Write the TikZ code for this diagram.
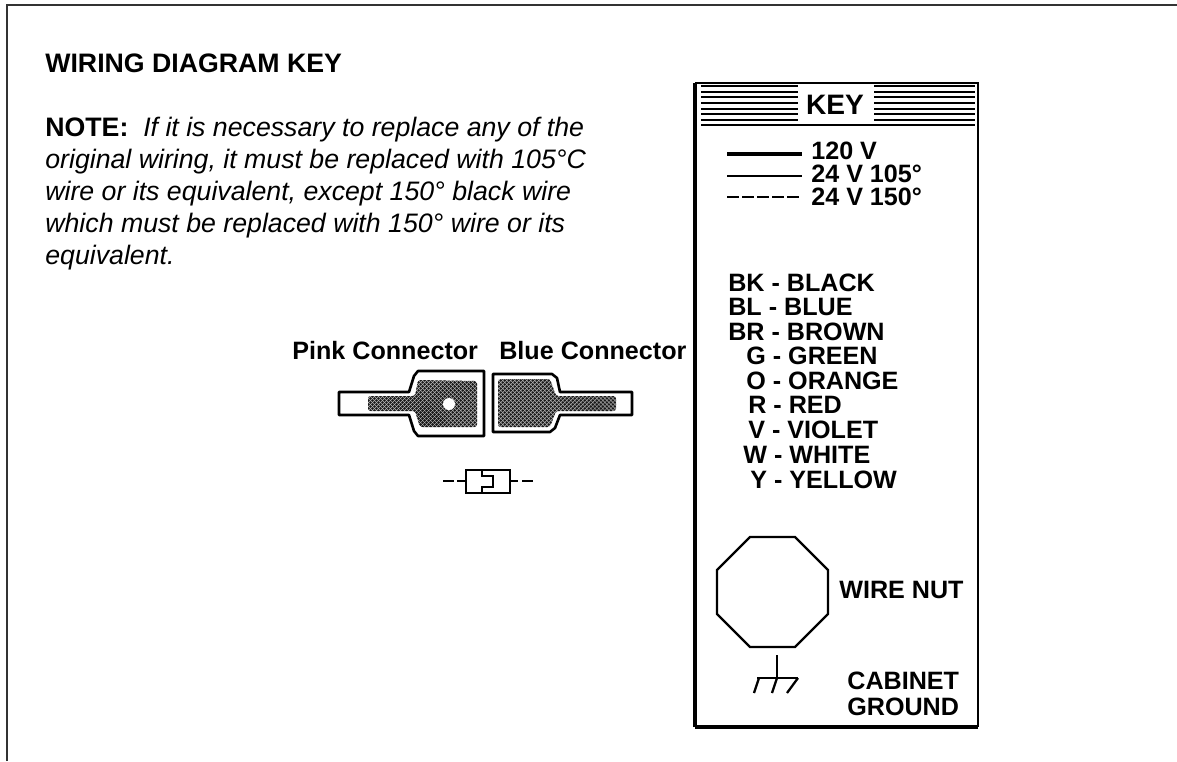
\documentclass[tikz,border=0pt]{standalone}
\usepackage{fontspec}
\setmainfont{Liberation Sans}
\usepackage{tikz}
\usetikzlibrary{patterns}
\pgfdeclarepatternformonly{finedots}{\pgfqpoint{-1pt}{-1pt}}{\pgfqpoint{3.28pt}{3.28pt}}{\pgfqpoint{2.28pt}{2.28pt}}{
  \pgfpathcircle{\pgfqpoint{0pt}{0pt}}{0.8pt}
  \pgfpathcircle{\pgfqpoint{1.14pt}{1.14pt}}{0.8pt}
  \pgfusepath{fill}
}
\tikzset{
  txt/.style={anchor=base west,inner sep=0pt,font=\fontsize{15.2}{18}\selectfont},
  keytxt/.style={anchor=base west,inner sep=0pt,font=\fontsize{14.3}{16}\selectfont\bfseries},
  stripe/.style={line width=1.1pt},
  outline/.style={line width=1.5pt,line join=round},
  symline/.style={line width=1.6pt},
  shade/.style={preaction={fill=black!30},pattern=finedots,pattern color=black!90,rounded corners=1.5pt},
}
\begin{document}
\begin{tikzpicture}[x=0.02cm,y=-0.02cm]
\useasboundingbox (0,0) rectangle (1177,761);
%% frame
\coordinate (frameB) at (7,761);
\coordinate (frameC) at (7,5);
\coordinate (frameR) at (1177,5);
\draw[line width=0.7pt,black!80] (frameB) -- (frameC) -- (frameR);
%% note text
\node[txt,font=\fontsize{15.2}{18}\selectfont\bfseries] (title) at (45,72) {WIRING DIAGRAM KEY};
\node[txt] (note1) at (45,136) {\textbf{NOTE:}\ \ \textit{If it is necessary to replace any of the}};
\node[txt] (note2) at (45,168) {\textit{original wiring, it must be replaced with 105°C}};
\node[txt] (note3) at (45,200) {\textit{wire or its equivalent, except 150° black wire}};
\node[txt] (note4) at (45,232) {\textit{which must be replaced with 150° wire or its}};
\node[txt] (note5) at (45,264) {\textit{equivalent.}};
%% connectors
\node[keytxt] (pink) at (292,359) {Pink Connector};
\node[keytxt] (blue) at (499,359) {Blue Connector};
\draw[outline] (339,392) -- (409,392) -- (414,376) -- (418,371) -- (484,371) -- (484,436) -- (418,436) -- (414,431) -- (409,415) -- (339,415) -- cycle;
\draw[outline] (493,374) -- (552,374) -- (557,378) -- (560,392) -- (632,392) -- (632,415) -- (560,415) -- (555,428) -- (550,432) -- (493,432) -- cycle;
\fill[shade] (368,396) -- (415,396) -- (418,380) -- (477,381) -- (477,427) -- (420,427) -- (415,411) -- (368,411) -- cycle;
\fill[shade] (498,379) -- (550,379) -- (556,396) -- (616,396) -- (616,411) -- (556,411) -- (550,427) -- (498,427) -- cycle;
\fill[white] (449,404) circle (6);
%% symbol
\draw[symline] (443,481) -- (454,481) (457,481) -- (466,481);
\draw[symline] (510,481) -- (518,481) (522,481) -- (533,481);
\draw[symline] (466,470) rectangle (510,493);
\draw[symline] (482,470) -- (482,476) -- (493,476) -- (493,487) -- (482,487) -- (482,493);
%% key box
\coordinate (boxA) at (695,83);
\coordinate (boxB) at (978,83);
\coordinate (boxC) at (978,727);
\coordinate (boxD) at (695,727);
\draw[line width=1.5pt] (boxA) -- (boxB) -- (boxC);
\draw[line width=2.3pt] (boxD) -- (boxA);
\draw[line width=2.8pt] (boxC) -- (boxD);
\foreach \yy in {86,92,97,109,114,120} {
  \draw[stripe] (701,\yy) -- (798,\yy);
  \draw[stripe] (874,\yy) -- (975,\yy);
}
\draw[line width=1.7pt] (701,103) -- (798,103) (874,103) -- (975,103);
\draw[line width=1.5pt] (701,125) -- (975,125);
\node[inner sep=0pt,font=\fontsize{16}{16}\selectfont\bfseries] (key) at (835,105) {KEY};
%% line samples
\draw[line width=2.8pt] (727,154) -- (802,154);
\draw[line width=1.1pt] (727,176) -- (802,176);
\draw[line width=1.1pt,dash pattern=on 6.8pt off 1.8pt] (727,197) -- (802,197);
\node[keytxt] (v120) at (811,159) {120 V};
\node[keytxt] (v105) at (811,182) {24 V 105°};
\node[keytxt] (v150) at (811,205) {24 V 150°};
%% colours
\node[keytxt] (bk) at (728,291) {BK - BLACK};
\node[keytxt] (bl) at (728,315) {BL - BLUE};
\node[keytxt] (br) at (728,340) {BR - BROWN};
\node[keytxt] (g) at (746,364) {G - GREEN};
\node[keytxt] (o) at (746,389) {O - ORANGE};
\node[keytxt] (r) at (748,413) {R - RED};
\node[keytxt] (v) at (748,438) {V - VIOLET};
\node[keytxt] (w) at (743,463) {W - WHITE};
\node[keytxt] (y) at (750,488) {Y - YELLOW};
%% wire nut
\draw[line width=1.3pt] (750,537) -- (795,537) -- (828,570) -- (828,614) -- (795,647) -- (750,647) -- (717,614) -- (717,570) -- cycle;
\node[keytxt] (nut) at (839,598) {WIRE NUT};
%% ground
\coordinate (gndT) at (777,655);
\coordinate (gndM) at (777,678);
\draw[line width=0.9pt] (gndT) -- (gndM);
\draw[line width=1.2pt] (757,678) -- (798,678);
\draw[line width=1.3pt] (759,678) -- (754,693) (777,678) -- (772,693) (798,678) -- (787,693);
\node[keytxt] (cab) at (847,689) {CABINET};
\node[keytxt] (gnd) at (847,715) {GROUND};
\end{tikzpicture}
\end{document}
